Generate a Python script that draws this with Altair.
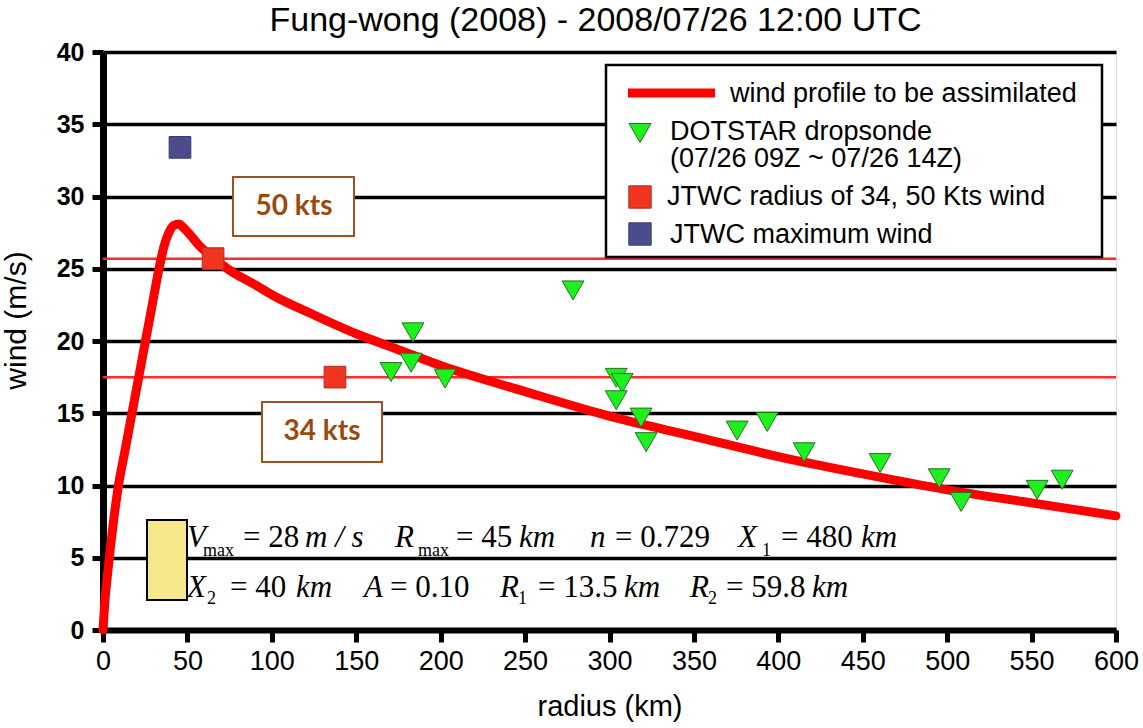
import altair as alt
import pandas as pd

# ---------------- data ----------------
profile_r = [0, 1, 3, 6, 9, 13, 17, 21, 25, 29, 33, 36, 39, 42, 45, 48, 52, 57, 65, 75,
             90, 100, 125, 150, 175, 200, 250, 300, 350, 400, 450, 500, 550, 600]
profile_v = [0, 1.8, 4.2, 7.3, 9.9, 12.4, 14.9, 17.4, 19.9, 22.4, 24.9, 26.5, 27.5, 28.0, 28.1, 27.8, 27.3, 26.6, 25.8, 24.9,
             23.9, 23.2, 21.8, 20.5, 19.4, 18.3, 16.5, 14.8, 13.4, 12.0, 10.8, 9.7, 8.8, 7.9]

sonde_r = [170.6, 183.6, 182.5, 202.6, 278.4, 304.0, 307.5, 304.0, 318.7, 321.7,
           375.6, 393.4, 415.3, 460.3, 495.3, 508.3, 553.3, 568.1]
sonde_v = [17.85, 20.6, 18.5, 17.4, 23.5, 17.45, 17.1, 15.9, 14.7, 13.0,
           13.8, 14.4, 12.3, 11.55, 10.5, 8.86, 9.7, 10.4]

jtwc_radius_r = [65.2, 137.4]
jtwc_radius_v = [25.7, 17.5]
jtwc_max_r = [45.6]
jtwc_max_v = [33.4]

legend_labels = ["wind profile to be assimilated", "DOTSTAR dropsonde",
                 "(07/26 09Z ~ 07/26 14Z)", "JTWC radius of 34, 50 Kts wind", "JTWC maximum wind"]
x_ticks = list(range(0, 601, 50))
y_ticks = list(range(0, 41, 5))

# ---------------- layout helpers (picture pixels -> data units) ----------------
PX_PER_KM = 1013 / 600
PX_PER_MS = 578 / 40


def kx(px):
    return (px - 103) / PX_PER_KM


def vy(py):
    return (630 - py) / PX_PER_MS


XS = alt.Scale(domain=[0, 600], nice=False, zero=False)
YS = alt.Scale(domain=[0, 40], nice=False, zero=False)

x_axis = alt.Axis(values=x_ticks, grid=False, domainColor="black", domainWidth=6,
                  tickColor="black", tickWidth=5, tickSize=12, labelFont="Liberation Sans",
                  labelFontSize=27, labelColor="black", labelPadding=6, labelFlush=False,
                  labelOverlap=False, title="radius (km)", titleFont="Liberation Sans",
                  titleFontSize=29, titleFontWeight="normal", titleColor="black", titleY=62)
y_axis = alt.Axis(values=y_ticks, grid=True, gridColor="black", gridWidth=3.5, gridOpacity=1,
                  domainColor="black", domainWidth=7, tickColor="black", tickWidth=5, tickSize=11,
                  labelFont="Liberation Sans", labelFontSize=25, labelFontWeight="bold",
                  labelColor="black", labelPadding=8, labelFlush=False, labelOverlap=False,
                  title="wind (m/s)", titleFont="Liberation Sans", titleFontSize=30,
                  titleFontWeight="normal", titleColor="black", titleX=-72, titleY=268)

X = alt.X("x:Q", scale=XS, axis=x_axis)
Y = alt.Y("y:Q", scale=YS, axis=y_axis)

profile_df = pd.DataFrame({"x": profile_r, "y": profile_v})
sonde_df = pd.DataFrame({"x": sonde_r, "y": sonde_v})
radius_df = pd.DataFrame({"x": jtwc_radius_r, "y": jtwc_radius_v})
max_df = pd.DataFrame({"x": jtwc_max_r, "y": jtwc_max_v})

# red threshold lines
thr = alt.Chart(pd.DataFrame({"y": jtwc_radius_v})).mark_rule(
    color="#FF2A2A", strokeWidth=2.5).encode(y=Y)

line = alt.Chart(profile_df).mark_line(
    color="#FF0000", strokeWidth=9, interpolate="monotone", strokeCap="round",
    strokeJoin="round").encode(x=X, y=Y)

sondes = alt.Chart(sonde_df).mark_point(
    shape="triangle-down", filled=True, fill="#1EF01E", stroke="#2A6E2A", strokeWidth=1,
    size=480, opacity=1).encode(x=X, y=Y)

radius_pts = alt.Chart(radius_df).mark_point(
    shape="square", filled=True, fill="#F2351E", stroke="#B02A22", strokeWidth=1,
    size=470, opacity=1).encode(x=X, y=Y)

max_pts = alt.Chart(max_df).mark_point(
    shape="square", filled=True, fill="#4B4C8C", stroke="#3A3A70", strokeWidth=1,
    size=470, opacity=1).encode(x=X, y=Y)

# "50 kts" / "34 kts" boxes
kts_df = pd.DataFrame({
    "x": [kx(233), kx(262)], "x2": [kx(354), kx(382)],
    "y": [vy(177), vy(402)], "y2": [vy(236), vy(462)],
    "tx": [kx(294), kx(322)], "ty": [vy(207), vy(432)],
    "label": ["50 kts", "34 kts"],
})
kts_box = alt.Chart(kts_df).mark_rect(fill="white", stroke="#A0521E", strokeWidth=2).encode(
    x=X, x2="x2:Q", y=Y, y2="y2:Q")
kts_text = alt.Chart(kts_df).mark_text(
    font="Lato", fontSize=28, fontWeight="bold", color="#9A4A0C", align="center",
    baseline="middle").encode(x=alt.X("tx:Q", scale=XS, axis=x_axis),
                               y=alt.Y("ty:Q", scale=YS, axis=y_axis), text="label:N")

# formula text
f_it = [("V", 187, 547), ("m / s", 305, 547), ("R", 395, 547), ("km", 519, 547), ("n", 590, 547),
        ("X", 738, 547), ("km", 861, 547), ("X", 187, 597), ("km", 296, 597), ("A", 364, 597),
        ("R", 500, 597), ("km", 624, 597), ("R", 690, 597), ("km", 812, 597)]
f_rm = [("= 28", 243, 547), ("= 45", 456, 547), ("= 0.729", 615, 547), ("= 480", 781, 547),
        ("= 40", 230, 597), ("= 0.10", 390, 597), ("= 13.5", 538, 597), ("= 59.8", 726, 597)]
f_sub = [("max", 203, 556), ("max", 418, 556), ("1", 762, 556), ("2", 207, 604), ("1", 518, 604),
         ("2", 708, 604)]


def fdf(items):
    return pd.DataFrame({"x": [kx(a[1]) for a in items], "y": [vy(a[2]) for a in items],
                         "t": [a[0] for a in items]})


fit = alt.Chart(fdf(f_it)).mark_text(font="Liberation Serif", fontStyle="italic", fontSize=31,
                                     align="left", baseline="alphabetic", color="black").encode(
    x=X, y=Y, text="t:N")
frm = alt.Chart(fdf(f_rm)).mark_text(font="Liberation Serif", fontSize=31,
                                     align="left", baseline="alphabetic", color="black").encode(
    x=X, y=Y, text="t:N")
fsub = alt.Chart(fdf(f_sub)).mark_text(font="Liberation Serif", fontSize=18,
                                       align="left", baseline="alphabetic", color="black").encode(
    x=X, y=Y, text="t:N")

yellow = alt.Chart(pd.DataFrame({"x": [kx(147)], "x2": [kx(187)], "y": [vy(520)], "y2": [vy(600)]})
                   ).mark_rect(fill="#F5E88A", stroke="black", strokeWidth=2).encode(
    x=X, x2="x2:Q", y=Y, y2="y2:Q")

# legend (drawn by hand inside the plot)
leg_box = alt.Chart(pd.DataFrame({"x": [kx(606)], "x2": [kx(1102)], "y": [vy(65)], "y2": [vy(257)]})
                    ).mark_rect(fill="white", stroke="black", strokeWidth=2.5).encode(
    x=X, x2="x2:Q", y=Y, y2="y2:Q")
leg_line = alt.Chart(pd.DataFrame({"x": [kx(628)], "x2": [kx(715)], "y": [vy(93)]})
                     ).mark_rule(color="#FF0000", strokeWidth=9).encode(x=X, x2="x2:Q", y=Y)
leg_tri = alt.Chart(pd.DataFrame({"x": [kx(640)], "y": [vy(133)]})).mark_point(
    shape="triangle-down", filled=True, fill="#1EF01E", stroke="#2A6E2A", strokeWidth=1,
    size=480, opacity=1).encode(x=X, y=Y)
leg_red = alt.Chart(pd.DataFrame({"x": [kx(640)], "y": [vy(197)]})).mark_point(
    shape="square", filled=True, fill="#F2351E", stroke="#B02A22", strokeWidth=1,
    size=500, opacity=1).encode(x=X, y=Y)
leg_blue = alt.Chart(pd.DataFrame({"x": [kx(640)], "y": [vy(234)]})).mark_point(
    shape="square", filled=True, fill="#4B4C8C", stroke="#3A3A70", strokeWidth=1,
    size=500, opacity=1).encode(x=X, y=Y)
leg_text_df = pd.DataFrame({
    "x": [kx(730), kx(670), kx(670), kx(667), kx(670)],
    "y": [vy(94), vy(132), vy(159), vy(197), vy(235)],
    "t": legend_labels,
})
leg_text = alt.Chart(leg_text_df).mark_text(
    font="Liberation Sans", fontSize=27, align="left", baseline="middle", color="black").encode(
    x=X, y=Y, text="t:N")

chart = alt.layer(
    thr, line, kts_box, kts_text, fit, frm, fsub, yellow, sondes, radius_pts, max_pts,
    leg_box, leg_line, leg_tri, leg_red, leg_blue, leg_text,
).properties(
    width=1013, height=578,
    padding={"left": 103, "top": 52, "right": 27, "bottom": 98},
    autosize=alt.AutoSizeParams(type="none"),
    title=alt.Title("Fung-wong (2008) - 2008/07/26 12:00 UTC", font="Liberation Sans",
                    fontSize=34, fontWeight="normal", color="black", dx=-14, offset=2),
).configure_view(stroke="black", strokeWidth=4).configure(background="white")

chart.save("out.html", embed_options={"renderer": "svg", "actions": False})
